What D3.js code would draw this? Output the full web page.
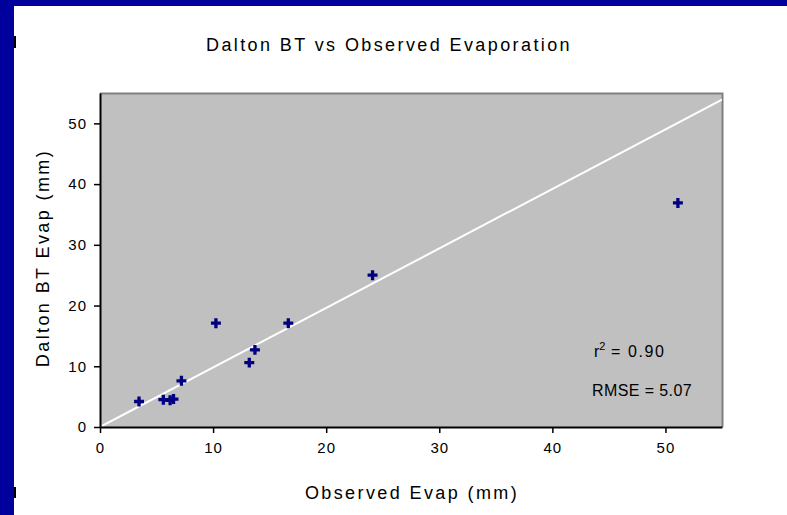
<!DOCTYPE html>
<html>
<head>
<meta charset="utf-8">
<script src="https://cdn.jsdelivr.net/npm/d3@7"></script>
<style>
  html, body { margin: 0; padding: 0; background: #ffffff; }
  svg { display: block; }
  text { font-family: Arial, "Liberation Sans", sans-serif; fill: #000; }
</style>
</head>
<body>
<svg id="chart" width="787" height="515"></svg>
<script>
// Observed vs. Dalton BT evaporation (mm)
const observed = [3.45, 5.6, 6.2, 6.5, 7.2, 10.25, 13.2, 13.7, 16.65, 24.1, 51.1];
const daltonBT = [4.2, 4.5, 4.4, 4.6, 7.6, 17.1, 10.6, 12.7, 17.1, 25.0, 36.9];
const xTicks = [0, 10, 20, 30, 40, 50];
const yTicks = [0, 10, 20, 30, 40, 50];
const trendSlope = 0.98;
const stats = ["= 0.90", "RMSE = 5.07"];

const svg = d3.select("#chart");
const W = 787, H = 515;

// slide frame
svg.append("rect").attr("width", W).attr("height", H).attr("fill", "#ffffff");
svg.append("rect").attr("x", 0).attr("y", 0).attr("width", W).attr("height", 6).attr("fill", "#00009c");
svg.append("rect").attr("x", 0).attr("y", 0).attr("width", 14).attr("height", H).attr("fill", "#00009c");
svg.append("rect").attr("x", 14).attr("y", 36).attr("width", 2).attr("height", 12).attr("fill", "#000");
svg.append("rect").attr("x", 14).attr("y", 487).attr("width", 2).attr("height", 11).attr("fill", "#000");

const plot = { left: 100, top: 93, right: 722, bottom: 427 };
const x = d3.scaleLinear().domain([0, 55]).range([plot.left, plot.right]);
const y = d3.scaleLinear().domain([0, 55]).range([plot.bottom, plot.top]);

// plot area
svg.append("rect")
  .attr("x", plot.left).attr("y", plot.top)
  .attr("width", plot.right - plot.left).attr("height", plot.bottom - plot.top)
  .attr("fill", "#c0c0c0");
svg.append("path")
  .attr("d", `M${plot.left},${plot.top + 0.5}H${plot.right + 0.5}V${plot.bottom}`)
  .attr("fill", "none").attr("stroke", "#808080").attr("stroke-width", 2);

// trend line through the origin
svg.append("clipPath").attr("id", "clip").append("rect")
  .attr("x", plot.left).attr("y", plot.top)
  .attr("width", plot.right - plot.left).attr("height", plot.bottom - plot.top);
svg.append("line")
  .attr("clip-path", "url(#clip)")
  .attr("x1", x(0)).attr("y1", y(0))
  .attr("x2", x(55)).attr("y2", y(55 * trendSlope))
  .attr("stroke", "#ffffff").attr("stroke-width", 2);

// axes
const xAxis = svg.append("g")
  .attr("transform", `translate(0,${plot.bottom})`)
  .call(d3.axisBottom(x).tickValues(xTicks).tickSize(6).tickPadding(9).tickSizeOuter(0));
const yAxis = svg.append("g")
  .attr("transform", `translate(${plot.left},0)`)
  .call(d3.axisLeft(y).tickValues(yTicks).tickSize(6).tickPadding(7).tickSizeOuter(0));
[xAxis, yAxis].forEach(g => {
  g.select(".domain").attr("stroke", "#000").attr("stroke-width", 2);
  g.selectAll(".tick line").attr("stroke", "#000").attr("stroke-width", 1.5);
  g.selectAll(".tick text").attr("font-size", 15).attr("fill", "#222")
    .attr("letter-spacing", 1)
    .attr("font-family", "Arial, 'Liberation Sans', sans-serif");
});

// points
const sym = d3.symbol().type(d3.symbolCross).size(55);
svg.append("g").selectAll("path")
  .data(observed.map((v, i) => [v, daltonBT[i]]))
  .join("path")
  .attr("transform", d => `translate(${x(d[0])},${y(d[1])})`)
  .attr("d", sym)
  .attr("fill", "#000080");

// titles
svg.append("text").attr("x", 389).attr("y", 51).attr("text-anchor", "middle")
  .attr("font-size", 18).attr("letter-spacing", 2.4).text("Dalton BT vs Observed Evaporation");
svg.append("text").attr("x", 412).attr("y", 499).attr("text-anchor", "middle")
  .attr("font-size", 18).attr("letter-spacing", 2.4).text("Observed Evap (mm)");
svg.append("text").attr("transform", "translate(49,258) rotate(-90)")
  .attr("text-anchor", "middle").attr("font-size", 18).attr("letter-spacing", 2.4)
  .text("Dalton BT Evap (mm)");

// fit statistics
const st = svg.append("text").attr("y", 357).attr("font-size", 16);
st.append("tspan").attr("x", 594).text("r");
st.append("tspan").attr("font-size", 11).attr("dy", -7).text("2");
st.append("tspan").attr("x", 611).attr("dy", 7).attr("letter-spacing", 1.6).text(stats[0]);
svg.append("text").attr("x", 592).attr("y", 396).attr("font-size", 16).attr("letter-spacing", 0.4).text(stats[1]);
</script>
</body>
</html>
